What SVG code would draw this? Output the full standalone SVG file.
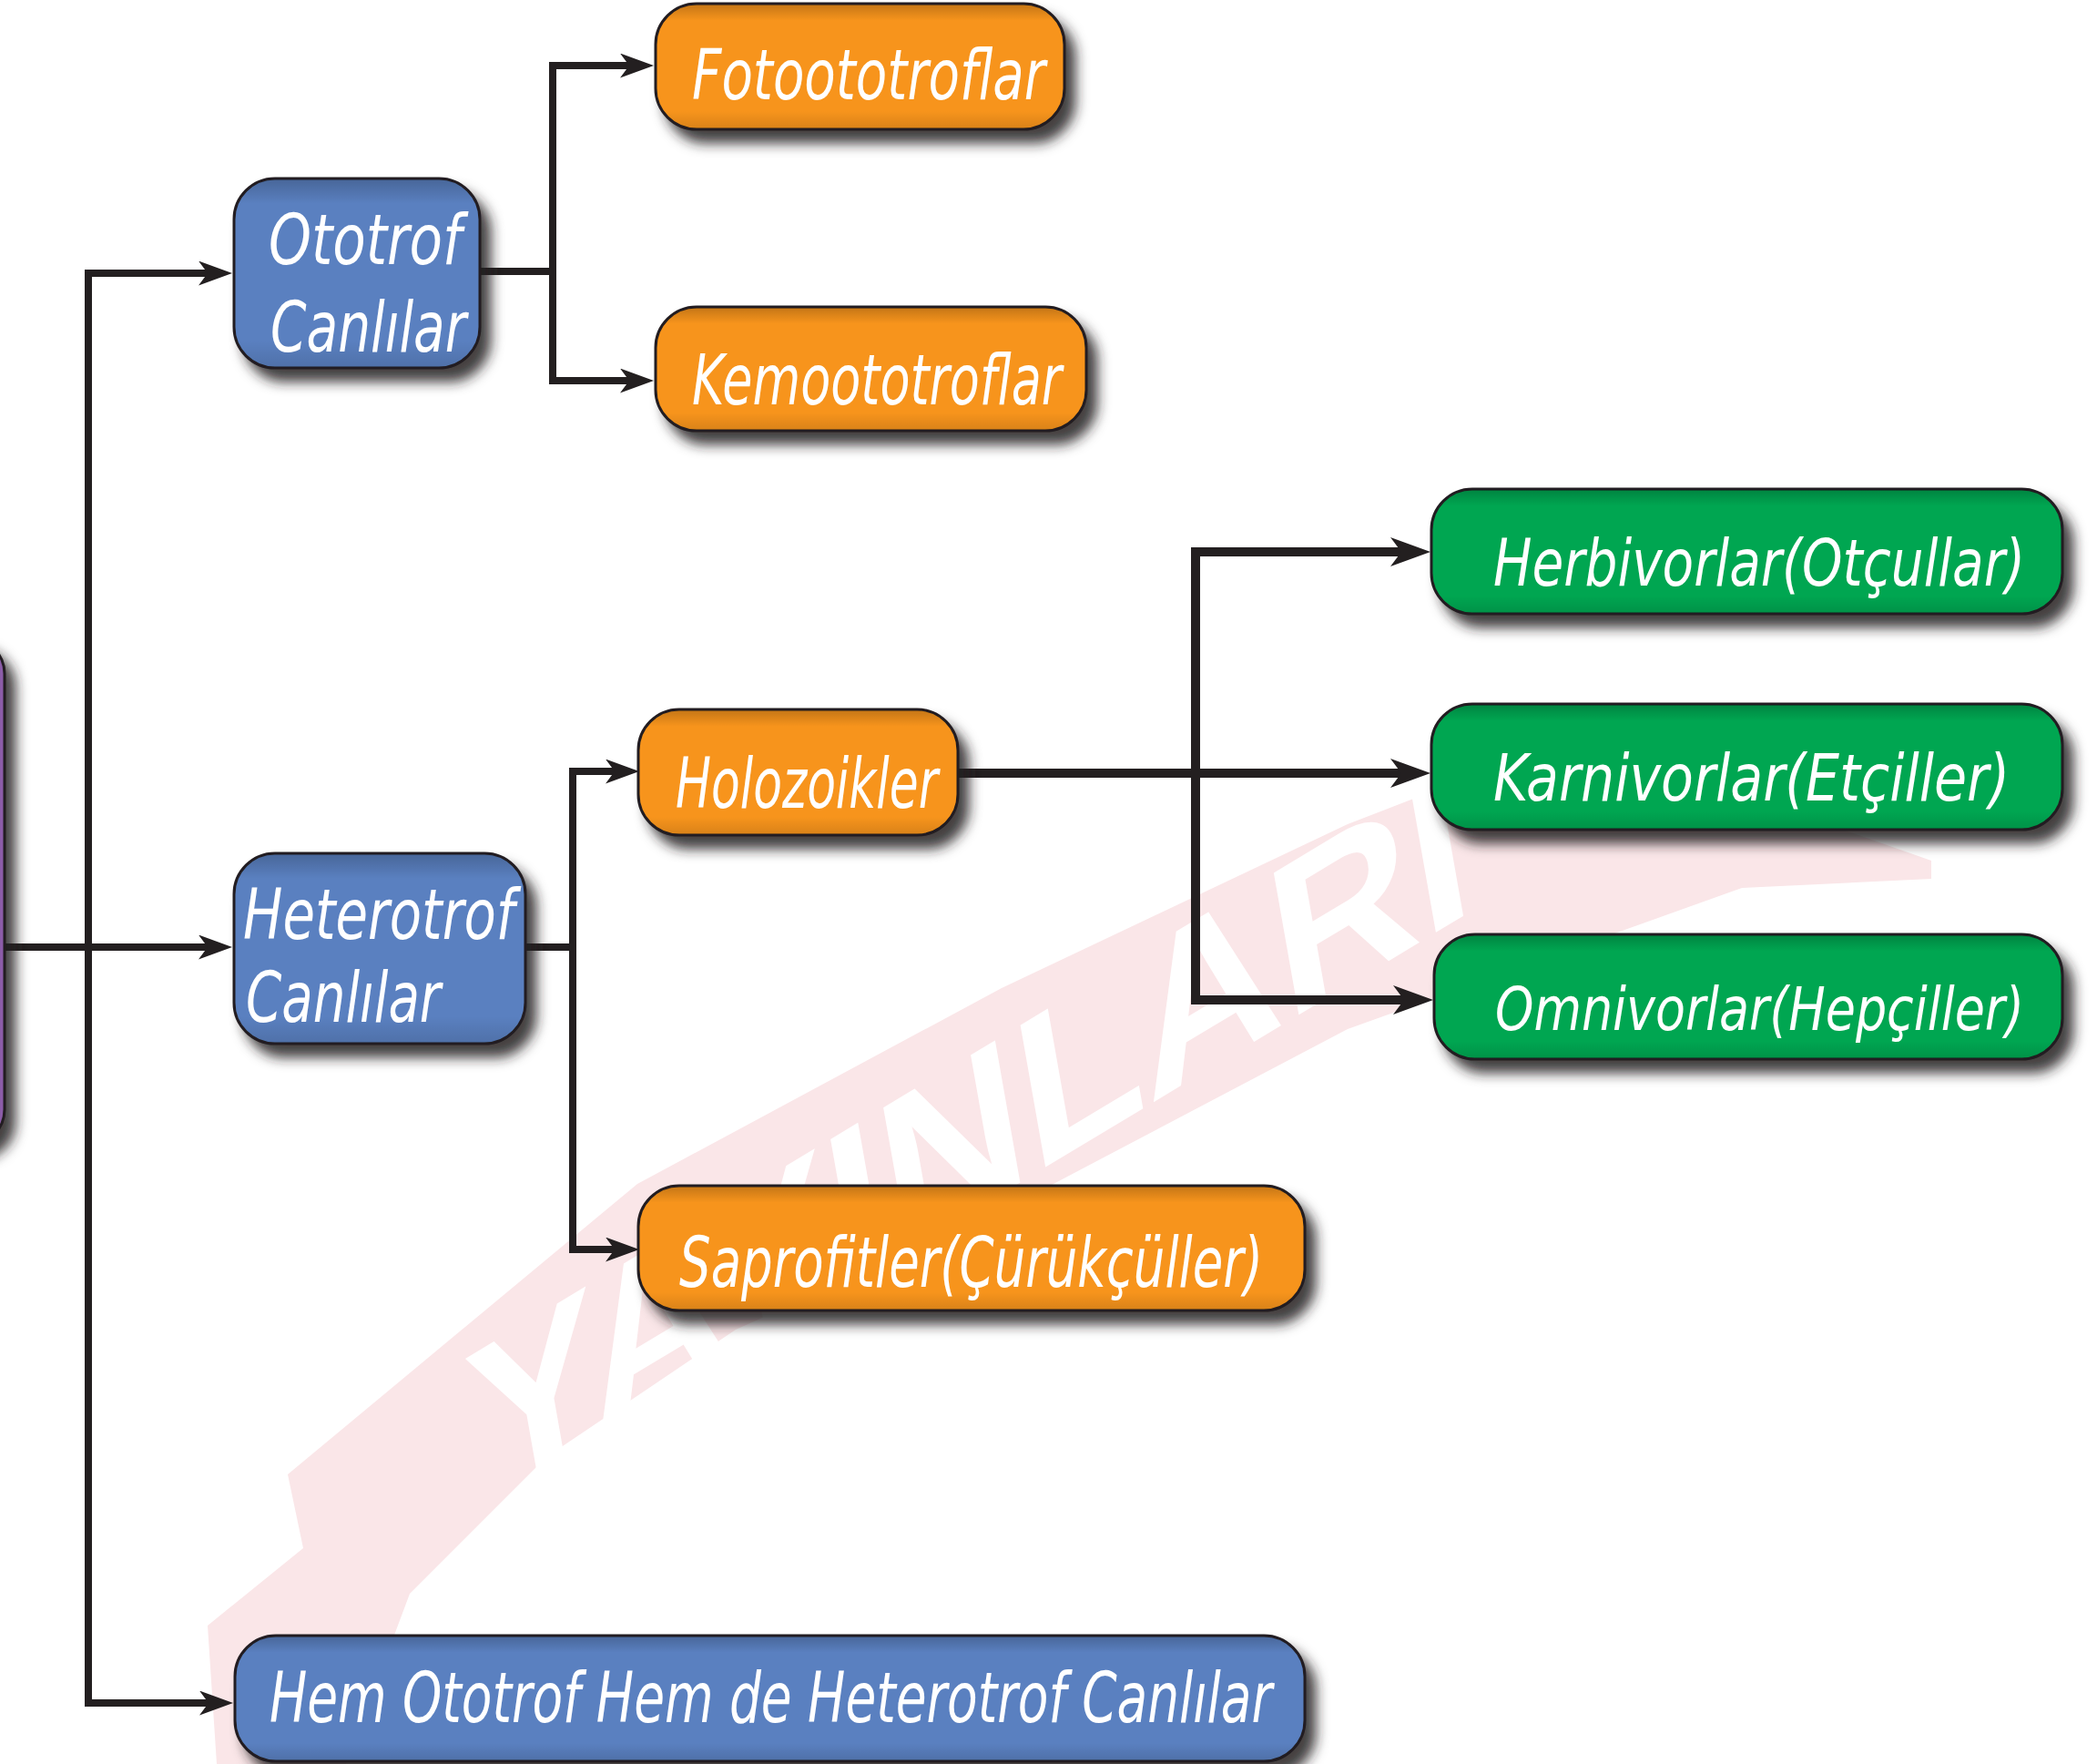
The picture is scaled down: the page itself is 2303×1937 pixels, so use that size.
<svg xmlns="http://www.w3.org/2000/svg" width="2303" height="1937" viewBox="0 0 2303 1937">
<defs>
<style>
.lbl{font-family:"Liberation Sans Narrow","DejaVu Sans Condensed","Liberation Sans",sans-serif;font-style:italic;font-size:76px;fill:#ffffff}
.sm{font-size:71px}
.xs{font-size:66px}
.box{stroke:#231f20;stroke-width:3}
.blue{fill:#5a80c0}
.orange{fill:#f7941d}
.green{fill:#00a651}
.purple{fill:#8b5ca8}
.shade{fill:url(#shade);stroke:none}
.ln{fill:none;stroke:#231f20;stroke-width:8;stroke-linejoin:miter;stroke-linecap:butt}
.thick{stroke-width:10}
.ar{marker-end:url(#arr)}
.arb{marker-end:url(#arrb)}
.wm{font-family:"Liberation Sans",sans-serif;font-weight:bold;font-size:215px;fill:#ffffff}
</style>
<linearGradient id="shade" x1="0" y1="0" x2="0" y2="1">
<stop offset="0" stop-color="#000" stop-opacity="0.2"/>
<stop offset="0.13" stop-color="#000" stop-opacity="0"/>
<stop offset="0.86" stop-color="#000" stop-opacity="0"/>
<stop offset="1" stop-color="#000" stop-opacity="0.12"/>
</linearGradient>
<filter id="sh" x="-10%" y="-20%" width="130%" height="160%">
<feGaussianBlur in="SourceAlpha" stdDeviation="7"/>
<feOffset dx="11" dy="14" result="b"/>
<feFlood flood-color="#231f20" flood-opacity="0.85"/>
<feComposite in2="b" operator="in" result="s"/>
<feMerge><feMergeNode in="s"/><feMergeNode in="SourceGraphic"/></feMerge>
</filter>
<marker id="arr" markerUnits="userSpaceOnUse" markerWidth="40" markerHeight="30" refX="16" refY="13.5" orient="auto">
<path d="M0,0 L37,13.5 L0,27 L10,13.5 z" fill="#231f20"/>
</marker>
<marker id="arrb" markerUnits="userSpaceOnUse" markerWidth="48" markerHeight="34" refX="24" refY="16" orient="auto">
<path d="M0,0 L44,16 L0,32 L12,16 z" fill="#231f20"/>
</marker>
</defs>
<rect x="0" y="0" width="2303" height="1937" fill="#ffffff"/>
<g id="watermark">
<polygon points="238,1937 228,1785 333,1700 316,1619 700,1300 1100,1085 1480,905 1730,808 2121,945 2121,965 1913,975 1480,1130 1100,1330 808,1460 600,1600 450,1750 380,1937" fill="#fae6e8"/>
<text class="wm" transform="translate(535,1650) rotate(-31) skewX(-21)" x="0" y="0" textLength="1267" lengthAdjust="spacingAndGlyphs">YAYINLARI</text>
</g>
<g id="connectors">
<path class="ln ar" d="M5,1040 H234"/>
<path class="ln ar" d="M97,1040 V300 H234"/>
<path class="ln ar" d="M97,1040 V1870 H235"/>
<path class="ln" d="M526,298 H607"/>
<path class="ln ar" d="M607,298 V72 H697"/>
<path class="ln ar" d="M607,298 V418 H697"/>
<path class="ln" d="M576,1040 H629"/>
<path class="ln ar" d="M629,1040 V847 H681"/>
<path class="ln ar" d="M629,1040 V1372 H681"/>
<path class="ln thick arb" d="M1052,849 H1551"/>
<path class="ln thick arb" d="M1313,849 V606 H1551"/>
<path class="ln thick arb" d="M1313,849 V1098 H1554"/>
</g>
<g id="node-root" filter="url(#sh)">
<rect class="box purple" x="-300" y="700" width="305" height="558" rx="40"/>
</g>
<g id="node-ototrof">
<g filter="url(#sh)"><rect class="box blue" x="257" y="196" width="270" height="208" rx="45"/></g>
<rect class="shade" x="258" y="197" width="268" height="206" rx="44"/>
<text class="lbl" x="295" y="290" textLength="212" lengthAdjust="spacingAndGlyphs">Ototrof</text>
<text class="lbl" x="297" y="386" textLength="215" lengthAdjust="spacingAndGlyphs">Canlılar</text>
</g>
<g id="node-heterotrof">
<g filter="url(#sh)"><rect class="box blue" x="257" y="937" width="320" height="209" rx="45"/></g>
<rect class="shade" x="258" y="938" width="318" height="207" rx="44"/>
<text class="lbl" x="267" y="1031" textLength="298" lengthAdjust="spacingAndGlyphs">Heterotrof</text>
<text class="lbl" x="270" y="1122" textLength="214" lengthAdjust="spacingAndGlyphs">Canlılar</text>
</g>
<g id="node-hem">
<g filter="url(#sh)"><rect class="box blue" x="258" y="1796" width="1175" height="138" rx="45"/></g>
<rect class="shade" x="259" y="1797" width="1173" height="136" rx="44"/>
<text class="lbl" x="296" y="1891" textLength="1101" lengthAdjust="spacingAndGlyphs">Hem Ototrof Hem de Heterotrof Canlılar</text>
</g>
<g id="node-foto">
<g filter="url(#sh)"><rect class="box orange" x="720" y="4" width="449" height="138" rx="45"/></g>
<rect class="shade" x="721" y="5" width="447" height="136" rx="44"/>
<text class="lbl" x="760" y="109" textLength="388" lengthAdjust="spacingAndGlyphs">Fotoototroflar</text>
</g>
<g id="node-kemo">
<g filter="url(#sh)"><rect class="box orange" x="720" y="337" width="473" height="136" rx="45"/></g>
<rect class="shade" x="721" y="338" width="471" height="134" rx="44"/>
<text class="lbl" x="760" y="444" textLength="406" lengthAdjust="spacingAndGlyphs">Kemoototroflar</text>
</g>
<g id="node-holo">
<g filter="url(#sh)"><rect class="box orange" x="701" y="779" width="351" height="138" rx="45"/></g>
<rect class="shade" x="702" y="780" width="349" height="136" rx="44"/>
<text class="lbl" x="742" y="887" textLength="288" lengthAdjust="spacingAndGlyphs">Holozoikler</text>
</g>
<g id="node-sapro">
<g filter="url(#sh)"><rect class="box orange" x="701" y="1302" width="732" height="137" rx="45"/></g>
<rect class="shade" x="702" y="1303" width="730" height="135" rx="44"/>
<text class="lbl" x="746" y="1413" textLength="641" lengthAdjust="spacingAndGlyphs">Saprofitler(Çürükçüller)</text>
</g>
<g id="node-herb">
<g filter="url(#sh)"><rect class="box green" x="1572" y="537" width="693" height="137" rx="45"/></g>
<rect class="shade" x="1573" y="538" width="691" height="135" rx="44"/>
<text class="lbl sm" x="1640" y="643" textLength="584" lengthAdjust="spacingAndGlyphs">Herbivorlar(Otçullar)</text>
</g>
<g id="node-karn">
<g filter="url(#sh)"><rect class="box green" x="1572" y="773" width="693" height="138" rx="45"/></g>
<rect class="shade" x="1573" y="774" width="691" height="136" rx="44"/>
<text class="lbl sm" x="1640" y="879" textLength="567" lengthAdjust="spacingAndGlyphs">Karnivorlar(Etçiller)</text>
</g>
<g id="node-omni">
<g filter="url(#sh)"><rect class="box green" x="1575" y="1026" width="690" height="137" rx="45"/></g>
<rect class="shade" x="1576" y="1027" width="688" height="135" rx="44"/>
<text class="lbl xs" x="1642" y="1131" textLength="581" lengthAdjust="spacingAndGlyphs">Omnivorlar(Hepçiller)</text>
</g>
</svg>
